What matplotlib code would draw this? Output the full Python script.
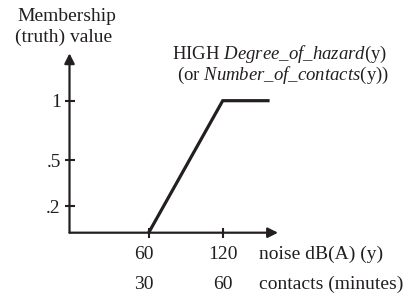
import matplotlib
matplotlib.use("Agg")
import matplotlib.pyplot as plt
from matplotlib.transforms import offset_copy

plt.rcParams['font.family'] = ['Liberation Serif', 'DejaVu Serif']
plt.rcParams['mathtext.fontset'] = 'custom'
plt.rcParams['mathtext.rm'] = 'Liberation Serif'
plt.rcParams['mathtext.it'] = 'Liberation Serif:italic'

# data
curve_x = [60, 120, 158]
curve_y = [0, 1, 1]
ytick_pos = [0.2, 0.55, 1.0]
ytick_labels = ['.2', '.5', '1']
xtick_pos = [60, 120]
row1_labels = ['60', '120']
row2_labels = ['30', '60']
row1_title = 'noise dB(A) (y)'
row2_title = 'contacts (minutes)'

INK = '#231f20'
W, H = 411, 297
fig = plt.figure(figsize=(W / 100, H / 100), dpi=100)

x0_px, x1_px = 69.5, 278.0
ybot_px, ytop_px = 232.7, 53.3
ax = fig.add_axes([x0_px / W, 1 - ybot_px / H, (x1_px - x0_px) / W, (ybot_px - ytop_px) / H])
ax.set_xlim(-4.2, 164.8)
ax.set_ylim(0, 1.359)
for s in ax.spines.values():
    s.set_visible(False)
ax.patch.set_visible(False)

# axes arrows
arrow = dict(arrowstyle='-|>', color=INK, lw=1.6, mutation_scale=15, shrinkA=0, shrinkB=0)
ax.annotate('', xy=(1, 0), xycoords='axes fraction', xytext=(0, 0), textcoords='axes fraction', arrowprops=arrow)
ax.annotate('', xy=(0, 1), xycoords='axes fraction', xytext=(0, 0), textcoords='axes fraction', arrowprops=arrow)

# ticks
ax.set_yticks(ytick_pos)
ax.set_yticklabels(ytick_labels)
ax.set_xticks(xtick_pos)
ax.set_xticklabels([])
ax.tick_params(axis='both', direction='inout', length=6.5, width=1.5, color=INK,
               labelsize=14, labelcolor=INK, pad=3)

# curve
ax.plot(curve_x, curve_y, color=INK, lw=2.3, solid_joinstyle='miter', solid_capstyle='butt', clip_on=False)

# x labels (two rows)
shifts = [-4.5, 0]
for xp, l1, l2, sh in zip(xtick_pos, row1_labels, row2_labels, shifts):
    tr = offset_copy(ax.transData, fig=fig, x=sh, y=0, units='dots')
    ax.text(xp, -26.3 / 132, l1, ha='center', va='baseline', fontsize=14, color=INK, clip_on=False, transform=tr)
    ax.text(xp, -56.3 / 132, l2, ha='center', va='baseline', fontsize=14, color=INK, clip_on=False, transform=tr)

def ftext(xp, yp, s, size=14, **kw):
    fig.text(xp / W, 1 - yp / H, s, fontsize=size, color=INK, va='baseline', **kw)

ftext(259.3, 259, row1_title, ha='left')
ftext(259.3, 289, row2_title, ha='left')
ftext(17, 20.7, 'Membership', ha='left')
ftext(15, 41.5, '(truth) value', ha='left')
ftext(387, 58.5, r'HIGH $\mathit{Degree\_of\_hazard}$(y)', size=13.5, ha='right')
ftext(389, 80, r'(or $\mathit{Number\_of\_contacts}$(y))', size=13.5, ha='right')

fig.savefig('out.png', dpi=100)
